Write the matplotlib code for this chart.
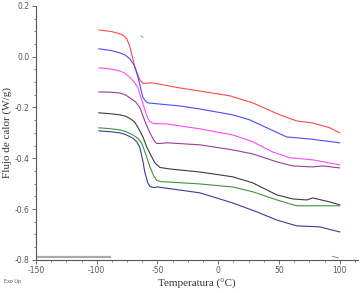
import matplotlib
matplotlib.use('Agg')
import matplotlib.pyplot as plt
from matplotlib.ticker import MultipleLocator

# curves (temperature in C, heat flow in W/g)
x_red = [-98.2, -88, -80.9, -77.5, -75.2, -72.7, -68.6, -64.5, -62.0, -58.5, -54.6, -31.6, 9.5, 28.5, 50.7, 64.6, 77.8, 91.8, 100]
y_red = [0.105, 0.099, 0.090, 0.082, 0.070, 0.039, -0.040, -0.091, -0.105, -0.104, -0.103, -0.123, -0.154, -0.182, -0.229, -0.253, -0.261, -0.280, -0.300]

x_blue = [-98.2, -88, -80.9, -76.5, -72.7, -69, -66.1, -62.0, -59.5, -57.9, -31.6, -15.1, 12.0, 26.0, 40.0, 56.4, 75.3, 100]
y_blue = [0.031, 0.024, 0.015, 0.006, -0.008, -0.035, -0.080, -0.160, -0.176, -0.182, -0.194, -0.206, -0.229, -0.249, -0.280, -0.316, -0.324, -0.339]

x_mag = [-98.2, -88, -80.9, -76.5, -72.7, -69, -66.1, -60.4, -58, -56.2, -53, -42.3, -15.1, 12.0, 28.5, 44.9, 58.9, 77.8, 100]
y_mag = [-0.044, -0.049, -0.056, -0.066, -0.082, -0.100, -0.122, -0.209, -0.242, -0.256, -0.263, -0.265, -0.284, -0.308, -0.335, -0.375, -0.398, -0.406, -0.426]

x_pur = [-98.2, -88, -80.9, -76.5, -72.7, -68, -64.5, -60, -56.2, -52.5, -50.5, -46, -42.3, -15.1, 12.0, 28.5, 48.2, 61.4, 77.8, 86.0, 100]
y_pur = [-0.139, -0.140, -0.143, -0.150, -0.162, -0.178, -0.200, -0.258, -0.300, -0.333, -0.342, -0.341, -0.339, -0.347, -0.367, -0.383, -0.414, -0.430, -0.434, -0.430, -0.438]

x_blk = [-98.2, -88, -80.9, -76.5, -72.7, -69, -66.1, -62, -58.7, -55, -52.1, -48.0, -40, -31.6, -15.1, 12.0, 28.5, 48.2, 61.4, 72.9, 77.8, 91.8, 100]
y_blk = [-0.221, -0.225, -0.229, -0.234, -0.243, -0.256, -0.278, -0.315, -0.357, -0.392, -0.418, -0.436, -0.442, -0.446, -0.454, -0.473, -0.497, -0.544, -0.560, -0.564, -0.556, -0.572, -0.583]

x_grn = [-98.2, -88, -80.9, -76, -70.2, -66, -62.8, -59, -56.2, -53, -50.5, -47, -42.3, -15.1, 12.0, 28.5, 48.2, 64.6, 77.8, 100]
y_grn = [-0.280, -0.284, -0.288, -0.295, -0.308, -0.322, -0.342, -0.393, -0.434, -0.470, -0.487, -0.492, -0.493, -0.501, -0.513, -0.532, -0.564, -0.587, -0.587, -0.587]

x_nav = [-98.2, -88, -80.9, -76, -70.2, -67, -64.5, -62, -60.4, -58, -56.2, -53, -49.6, -15.1, 12.0, 31.8, 48.2, 64.6, 83.6, 100]
y_nav = [-0.292, -0.296, -0.300, -0.307, -0.321, -0.335, -0.357, -0.410, -0.455, -0.496, -0.511, -0.515, -0.513, -0.536, -0.576, -0.611, -0.643, -0.666, -0.670, -0.690]

# baseline stub at the bottom left
x_base = [-148, -89]
y_base = [-0.790, -0.790]

fig = plt.figure(figsize=(3.63, 2.93), dpi=100)
ax = fig.add_axes([0.099, 0.113, 0.887, 0.867])

ax.plot(x_red, y_red, color='#ff4a4a', lw=0.8)
ax.plot(x_blue, y_blue, color='#4a4aff', lw=0.8)
ax.plot(x_mag, y_mag, color='#ff4aff', lw=0.8)
ax.plot(x_pur, y_pur, color='#9a3c9a', lw=0.8)
ax.plot(x_blk, y_blk, color='#3c3c3c', lw=0.8)
ax.plot(x_grn, y_grn, color='#3c963c', lw=0.8)
ax.plot(x_nav, y_nav, color='#3c3c9a', lw=0.8)
ax.plot(x_base, y_base, color='#aaaaaa', lw=1.6)
ax.plot([-63.5, -62], [0.082, 0.076], color='#66aaaa', lw=0.7)
ax.plot([94, 99], [-0.786, -0.792], color='#8888aa', lw=0.7)

ax.set_xlim(-150, 115)
ax.set_ylim(-0.8, 0.2)
ax.xaxis.set_minor_locator(MultipleLocator(12.5))
ax.yaxis.set_minor_locator(MultipleLocator(0.05))
ax.set_yticks([0.2, 0.0, -0.2, -0.4, -0.6, -0.8])
ax.set_yticklabels(['0.2', '0.0', '-0.2', '-0.4', '-0.6', '-0.8'])
ax.set_xticks([-150, -100, -50, 0, 50, 100])
ax.set_xticklabels(['-150', '-100', '-50', '0', '50', '100'])

for s in ['top', 'right']:
    ax.spines[s].set_visible(False)
for s in ['left', 'bottom']:
    ax.spines[s].set_color('#555555')
    ax.spines[s].set_linewidth(0.8)
ax.tick_params(which='major', length=3, width=0.6, color='#555555', labelsize=5.5, labelcolor='#555555', pad=1.5)
ax.tick_params(which='minor', length=1.5, width=0.5, color='#555555')

ax.set_xlabel('Temperatura (°C)', family='Liberation Serif', fontsize=8, color='#333333', labelpad=3)
ax.set_ylabel('Flujo de calor (W/g)', family='Liberation Serif', fontsize=8, color='#333333', labelpad=2)
fig.text(0.012, 0.035, 'Exo Up', fontsize=3.5, color='#555555')

fig.savefig('out.png', dpi=100)
